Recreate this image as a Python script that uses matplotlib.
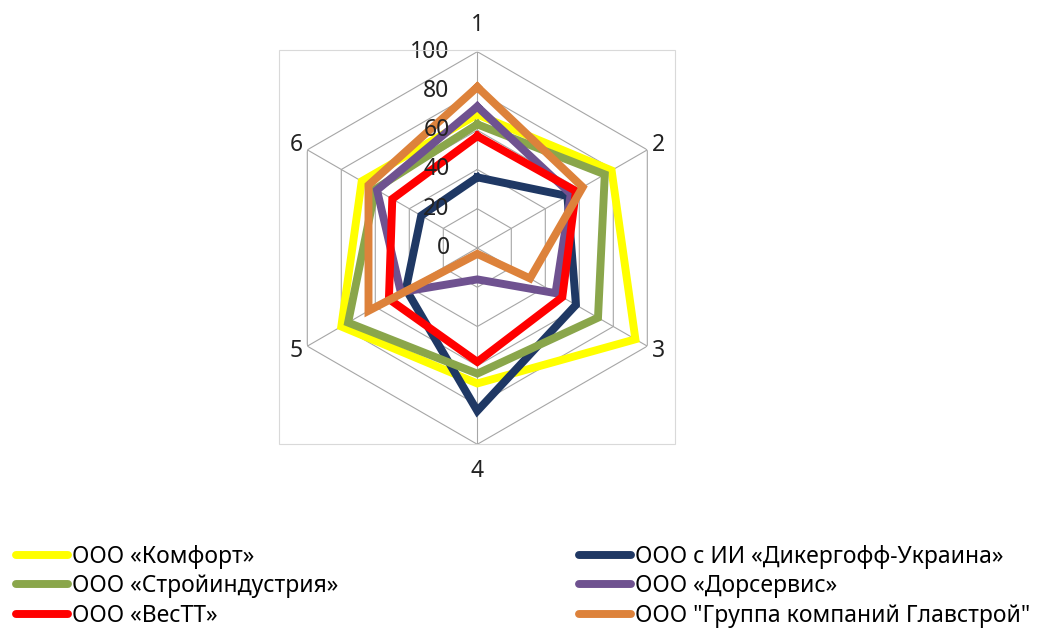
import numpy as np
import matplotlib
matplotlib.use('Agg')
import matplotlib.pyplot as plt
from matplotlib.lines import Line2D

plt.rcParams['font.family'] = ['Noto Sans', 'DejaVu Sans']

# оценки по 6 критериям
axis_labels = ['1', '2', '3', '4', '5', '6']
komfort = [68, 79, 93, 69, 80, 68]
dikergoff = [36, 53, 58, 83, 42, 33]
stroyindustriya = [63, 75, 71, 64, 76, 60]
dorservis = [72, 55, 46, 16, 45, 59]
vestt = [57, 58, 50, 58, 52, 50]
glavstroy = [82, 62, 31, 3, 64, 64]
r_ticks = [0, 20, 40, 60, 80, 100]

names = ['ООО «Комфорт»', 'ООО с ИИ «Дикергофф-Украина»', 'ООО «Стройиндустрия»',
         'ООО «Дорсервис»', 'ООО «ВесТТ»', 'ООО "Группа компаний Главстрой"']
colors = ['#FFFF00', '#1F3864', '#8AA64B', '#6F5290', '#FF0000', '#DD823B']
series = [komfort, dikergoff, stroyindustriya, dorservis, vestt, glavstroy]

FS = 16.5
W, H = 1038, 628
fig = plt.figure(figsize=(W / 100, H / 100), dpi=100)

# рамка области построения
fig.add_artist(plt.Rectangle((279 / W, 1 - 444 / H), 396 / W, 394 / H,
                             transform=fig.transFigure, fill=False,
                             ec='#d9d9d9', lw=0.8))

R = 196.3
cx, cy = 477.3, 248
ax = fig.add_axes([(cx - R) / W, 1 - (cy + R) / H, 2 * R / W, 2 * R / H],
                  projection='polar')
ax.set_theta_zero_location('N')
ax.set_theta_direction(-1)
ax.set_ylim(0, 100)
ax.patch.set_visible(False)
ax.spines['polar'].set_visible(False)
ax.set_xticks([])
ax.set_yticks([])
ax.grid(False)

theta = np.linspace(0, 2 * np.pi, len(axis_labels), endpoint=False)
closed = np.append(theta, theta[0])

# шестиугольная сетка
for r in r_ticks[1:]:
    ax.plot(closed, [r] * len(closed), color='#a6a6a6', lw=0.8, zorder=1)
for t in theta:
    ax.plot([t, t], [0, 100], color='#a6a6a6', lw=0.8, zorder=1)

for r in r_ticks:
    ax.annotate(str(r), xy=(0, r), xytext=(-20, 0), textcoords='offset points',
                ha='right', va='center', fontsize=FS, color='#222222')


def label_offset(t):
    # сдвиг подписи оси от вершины, в пунктах
    s, c = np.sin(t), np.cos(t)
    if abs(s) < 1e-6:
        return 0, 19.5 * np.sign(c)
    return 8 * np.sign(s), 3.5 * np.sign(c)


for t, lab in zip(theta, axis_labels):
    ax.annotate(lab, xy=(t, 100), xytext=label_offset(t), textcoords='offset points',
                ha='center', va='center', fontsize=FS, color='#222222')

for vals, c in zip(series, colors):
    ax.plot(closed, vals + [vals[0]], color=c, lw=5.7,
            solid_joinstyle='miter', zorder=2)

handles = [Line2D([], [], color=c, lw=5.7, solid_capstyle='round') for c in colors]
leg_kw = dict(loc='upper left', frameon=False, fontsize=FS, handlelength=2.27,
              handletextpad=0.17, labelspacing=0.23, borderpad=0, borderaxespad=0)
fig.legend(handles[0::2], names[0::2], bbox_to_anchor=(16 / W, 1 - 545 / H), **leg_kw)
fig.legend(handles[1::2], names[1::2], bbox_to_anchor=(579 / W, 1 - 545 / H), **leg_kw)

fig.savefig('out.png', dpi=100)
